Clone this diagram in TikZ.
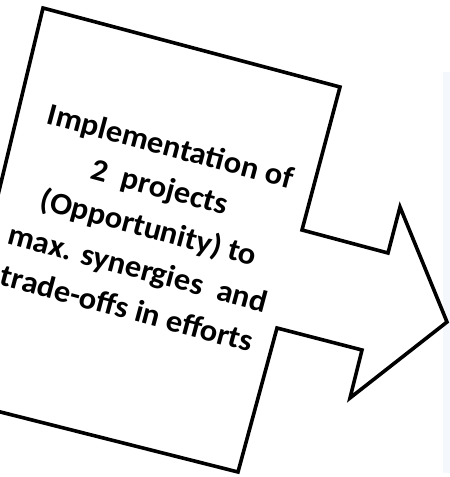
\documentclass[tikz,border=0pt]{standalone}
\usepackage{fontspec}
\setmainfont{Carlito}
\definecolor{panelgray}{HTML}{F4F7FB}

\begin{document}
\begin{tikzpicture}[x=1pt,y=-1pt]
		\useasboundingbox (0,0) rectangle (450,477);
		\clip (0,0) rectangle (450,477);
		\fill[panelgray] (443,72) rectangle (450,473);
		\coordinate (tl) at (43,8);
		\coordinate (tr) at (340,87);
		\coordinate (nt) at (302,230);
		\coordinate (st) at (388,253);
		\coordinate (ht) at (400,207);
		\coordinate (tip) at (447,322);
		\coordinate (hb) at (350,398);
		\coordinate (sb) at (362,350);
		\coordinate (nb) at (277,328);
		\coordinate (br) at (238,472);
		\coordinate (bl) at (-51,399);
		\draw[line width=3.6pt, fill=white, miter limit=20] (tl) -- (tr) -- (nt) -- (st) -- (ht) -- (tip) -- (hb) -- (sb) -- (nb) -- (br) -- (bl) -- cycle;
		\node[rotate=-15, xscale=1.05, align=center, font=\fontsize{31}{38}\selectfont\bfseries] (label) at (149,227) {Implementation of\\[4pt]2~ projects\\[4pt](Opportunity) to\\[4pt]max. synergies~ and\\[4pt]trade-offs in efforts};
		\end{tikzpicture}
\end{document}
